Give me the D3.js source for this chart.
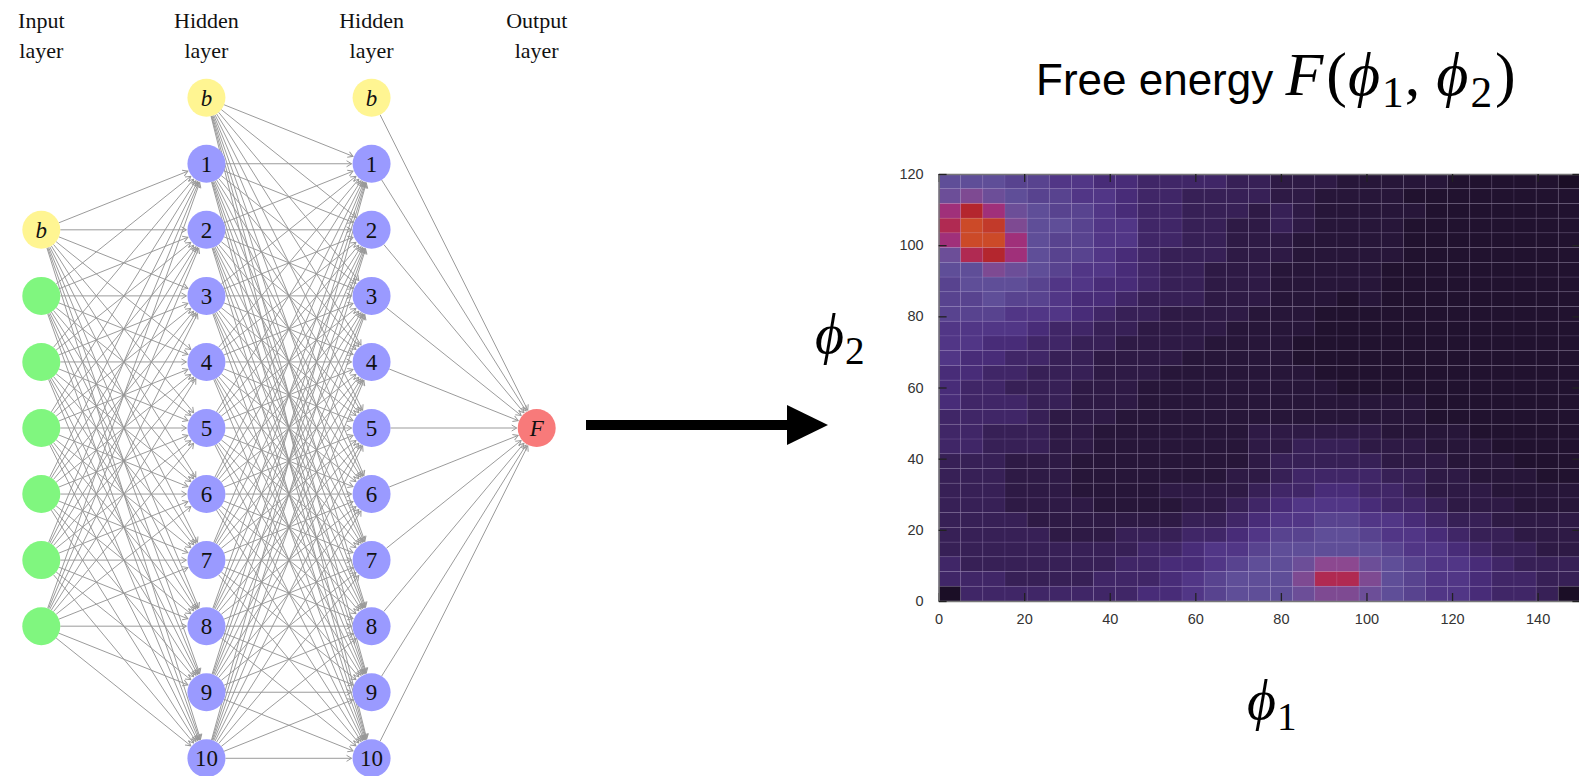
<!DOCTYPE html>
<html>
<head>
<meta charset="utf-8">
<script src="https://cdn.jsdelivr.net/npm/d3@7"></script>
<style>
  body { margin: 0; background: #fff; }
  svg { display: block; }
</style>
</head>
<body>
<svg id="chart" width="1579" height="776"></svg>
<script>
// ---- network data ----
const layerTitles = [["Input", "layer"], ["Hidden", "layer"], ["Hidden", "layer"], ["Output", "layer"]];
const inputLabels = ["b", "", "", "", "", "", ""];
const hidden1Labels = ["b", "1", "2", "3", "4", "5", "6", "7", "8", "9", "10"];
const hidden2Labels = ["b", "1", "2", "3", "4", "5", "6", "7", "8", "9", "10"];
const outputLabels = ["F"];

// ---- heatmap data ----
const phi1Ticks = [0, 20, 40, 60, 80, 100, 120, 140];
const phi2Ticks = [0, 20, 40, 60, 80, 100, 120];
// colour level per cell, rows from top (phi2 = 120) to bottom (phi2 = 0), 29 x 29 cells
const feLevels = [
  [6,6,6,5.5,5.5,5,5,4.5,4.5,4,4,4,4,3.5,3.5, 3,3,3,2.5,2.5,2.5,2.5,2.5,2,2,2,2,2,1.5],
  [6.5,7,6.5,6,5.5,5.5,5,5,4.5,4,4,3.5,3.5,3.5,3.5, 3,3,2.5,2.5,2.5,2.5,2,2,2,2,2,2,2,2],
  [8,9,8,6.5,6,5.5,5.5,5,4.5,4,4,3.5,3.5,3.5,3, 3.5,3,2.5,2.5,2.5,2.5,2.5,2,2,2,2,2,2,2],
  [8.5,10,9.5,7,6,6,5.5,5,5,4,4,3.5,3.5,3,3, 3.5,3,2.5,2.5,2.5,2.5,2,2,2,2,2,2,2,2],
  [8,10,10,8,6,5.5,5.5,5,5,4,4,3.5,3.5,3,3, 3,2.5,2.5,2.5,2.5,2.5,2,2,2,2,2,2,2,2],
  [6.5,8.5,9,8,6,5.5,5.5,5,4.5,4,3.5,3.5,3.5,3,3, 3,2.5,2.5,2.5,2.5,2.5,2,2,2,2,2,2,2,2],
  [6,6,7,6.5,6,5.5,5,5,4.5,4,3.5,3.5,3,3,3, 2.5,2.5,2.5,2.5,2.5,2,2,2,2,2,2,2,2,2],
  [5.5,6,6,6,5.5,5,5,4.5,4.5,4,3.5,3.5,3,3,3, 2.5,2.5,2.5,2.5,2.5,2,2,2,2,2,2,2,2,2],
  [5.5,5.5,6,5.5,5.5,5,4.5,4.5,4,3.5,3.5,3.5,3,3,3, 2.5,2.5,2.5,2,2.5,2,2,2,2,2,2,2,2,2],
  [5.5,5.5,5.5,5,5,5,4.5,4,3.5,3.5,3,3,3,3,2.5, 2.5,2.5,2,2,2,2,2,2,2,2,2,2,2,2],
  [5,5,5,5,4.5,4,4,3.5,3.5,3,3,3,3,2.5,2.5, 2.5,2.5,2,2,2,2,2,2,2,2,2,2,2,2],
  [5,5,4.5,4.5,4,4,3.5,3.5,3,3,3,3,2.5,2.5,2.5, 2.5,2,2,2,2,2,2,2,2,2,2,2,2,2],
  [5,4.5,4.5,4,4,3.5,3.5,3,3,3,3,2.5,2.5,2.5,2.5, 2.5,2,2,2,2,2,2,2,2,2,2,2,2,2],
  [4.5,4.5,4,4,3.5,3.5,3.5,3,3,3,2.5,2.5,2.5,2.5,2.5, 2.5,2.5,2,2,2,2,2,2,2,2,2,2,2,2],
  [4.5,4,4,3.5,3.5,3.5,3,3,3,2.5,2.5,2.5,2.5,2.5,2.5, 2.5,2.5,2.5,2,2,2,2,2,2,2,2,2,2,2],
  [4.5,4,4,4,3.5,3.5,3,3,3,2.5,2.5,2.5,2.5,2.5,2.5, 2.5,2.5,2.5,2.5,2.5,2.5,2.5,2,2,2,2,2,2,2],
  [4,4,4,4,3.5,3,3,3,2.5,2.5,2.5,2.5,2.5,2.5,2.5, 2.5,2.5,2.5,2.5,2.5,2.5,2.5,2,2,2,2,2,2,2],
  [4,4,3.5,3.5,3.5,3,3,2.5,2.5,2.5,2.5,2.5,2.5,2.5,3, 3,3,3,3,3,2.5,2.5,2.5,2.5,2,2,2,2,2],
  [4,4,3.5,3.5,3.5,3,3,2.5,2.5,2.5,2.5,2.5,2.5,2.5,3, 3,3.5,3.5,3.5,3,3,3,2.5,2.5,2.5,2,2,2,2],
  [3.5,3.5,3.5,3,3,3,2.5,2.5,2.5,2.5,2.5,2.5,2.5,2.5,3, 3.5,3.5,3.5,3.5,3.5,3,3,3,2.5,2.5,2.5,2,2,2],
  [3.5,3.5,3.5,3,3,3,2.5,2.5,2.5,2.5,2.5,2.5,2.5,3,3, 3.5,4,4,4,4,3.5,3.5,3,3,2.5,2.5,2.5,2,2],
  [3.5,3.5,3.5,3,3,3,2.5,2.5,2.5,2.5,3,3,3,3,3.5, 4,4,4.5,4.5,4,4,3.5,3,3,3,2.5,2.5,2.5,2.5],
  [3.5,3.5,3.5,3,3,3,3,2.5,2.5,2.5,2.5,3,3,3.5,4, 4.5,5,5,5,4.5,4,4,3.5,3,3,3,2.5,2.5,2.5],
  [3.5,3.5,3.5,3.5,3,3,3,3,3,3,3,3.5,3.5,4,4.5, 5,5,5.5,5.5,5,5,4.5,4,3.5,3.5,3,3,3,3],
  [3.5,3.5,3.5,3.5,3.5,3,3,3,3.5,3.5,3.5,4,4,4.5,5, 5.5,5.5,6,6,5.5,5,5,4.5,4,3.5,3.5,3,3,3],
  [3.5,3.5,3.5,3.5,3.5,3.5,3.5,3.5,3.5,4,4,4.5,5,5,5.5, 6,6,6,6,6,5.5,5,5,4.5,4,3.5,3.5,3,3],
  [4,3.5,3.5,3.5,3.5,3.5,3.5,3.5,4,4,4.5,4.5,5,5.5,6, 6,6.5,7.5,7.5,6.5,6,5.5,5,5,4.5,4,3.5,3.5,3.5],
  [4,4,4,3.5,3.5,3.5,3.5,4,4,4,4.5,5,5.5,6,6, 6,7,8.5,8.5,7,6,5.5,5,5,4.5,4,4,3.5,3.5],
  [1.5,4,4,4,4,4,4,4,4,4.5,4.5,5,5.5,6,6, 6,6.5,7,7,6.5,6,5.5,5,5,4.5,4,4,3.5,1.5]
];
const levelStops = [1.5, 2, 2.5, 3, 3.5, 4, 4.5, 5, 5.5, 6, 6.5, 7, 7.5, 8, 8.5, 9, 9.5, 10];
const levelColors = ["#1b0e26", "#21122f", "#271639", "#2e1a45", "#372056", "#402667", "#482c78", "#513686",
  "#58438f", "#5f4e98", "#6c4e98", "#7e4a92", "#8c4890", "#a0307a", "#b02a52", "#b4262e", "#c23a2a", "#cc4a28"];

const svg = d3.select("#chart");
const serif = "'Liberation Serif', 'DejaVu Serif', serif";
const sans = "'Liberation Sans', Arial, sans-serif";

// ================= neural network =================
const nodeR = 19;
const layers = [inputLabels, hidden1Labels, hidden2Labels, outputLabels].map((labels, li) =>
  labels.map((label, i) => ({
    label: label,
    layer: li,
    slot: 5 - (labels.length - 1) / 2 + i,
    kind: label == "b" ? "bias" : (li == 0 ? "input" : (li == 3 ? "output" : "hidden"))
  }))
);
const fills = { bias: "#fff592", input: "#80f67f", hidden: "#9a9aff", output: "#f87a7a" };

const xLayer = d3.scalePoint().domain([0, 1, 2, 3]).range([41.3, 536.7]);
const yNode = d3.scaleLinear().domain([0, 10]).range([97.7, 758.3]);

svg.append("defs").append("marker")
  .attr("id", "head")
  .attr("viewBox", "-6 -4 7 8")
  .attr("refX", 0).attr("refY", 0)
  .attr("markerWidth", 7).attr("markerHeight", 8)
  .attr("markerUnits", "userSpaceOnUse")
  .attr("orient", "auto")
  .append("path")
  .attr("d", "M-5,-3L0,0L-5,3")
  .attr("fill", "none")
  .attr("stroke", "#999")
  .attr("stroke-width", 1);

let edges = [];
for (let li = 0; li < layers.length - 1; li++) {
  layers[li].forEach(s => {
    layers[li + 1].forEach(t => {
      if (t.kind != "bias") edges.push({ s: s, t: t });
    });
  });
}

let edgePts = (e) => {
  let x1 = xLayer(e.s.layer), y1 = yNode(e.s.slot);
  let x2 = xLayer(e.t.layer), y2 = yNode(e.t.slot);
  let dx = x2 - x1, dy = y2 - y1, len = Math.hypot(dx, dy);
  return [x1 + dx / len * nodeR, y1 + dy / len * nodeR,
          x2 - dx / len * (nodeR + 1), y2 - dy / len * (nodeR + 1)];
};

svg.append("g").selectAll("line")
  .data(edges)
  .enter()
  .append("line")
  .attr("x1", d => edgePts(d)[0])
  .attr("y1", d => edgePts(d)[1])
  .attr("x2", d => edgePts(d)[2])
  .attr("y2", d => edgePts(d)[3])
  .attr("stroke", "#969696")
  .attr("stroke-width", 0.95)
  .attr("marker-end", "url(#head)");

let nodes = svg.append("g").selectAll("g")
  .data(layers.flat())
  .enter()
  .append("g")
  .attr("transform", d => `translate(${xLayer(d.layer)},${yNode(d.slot)})`);

nodes.append("circle")
  .attr("r", nodeR)
  .attr("fill", d => fills[d.kind]);

nodes.append("text")
  .attr("text-anchor", "middle")
  .attr("dy", "0.34em")
  .attr("font-family", serif)
  .attr("font-size", 23)
  .attr("font-style", d => (d.kind == "bias" || d.kind == "output") ? "italic" : "normal")
  .attr("fill", "#111")
  .text(d => d.label);

layerTitles.forEach((lines, li) => {
  lines.forEach((w, k) => {
    svg.append("text")
      .attr("x", xLayer(li))
      .attr("y", 28 + k * 30)
      .attr("text-anchor", "middle")
      .attr("font-family", serif)
      .attr("font-size", 22)
      .attr("fill", "#111")
      .text(w);
  });
});

// big arrow
svg.append("line")
  .attr("x1", 586).attr("y1", 425).attr("x2", 792).attr("y2", 425)
  .attr("stroke", "#000").attr("stroke-width", 10);
svg.append("path")
  .attr("d", "M787,405L828,425L787,445Z")
  .attr("fill", "#000");

// ================= heatmap =================
const nCols = feLevels[0].length, nRows = feLevels.length;
const x = d3.scaleLinear().domain([0, 150]).range([938.6, 1580.4]);
const y = d3.scaleLinear().domain([0, 120]).range([601, 174]);
const color = d3.scaleLinear().domain(levelStops).range(levelColors).interpolate(d3.interpolateRgb);
const cw = 150 / nCols, ch = 120 / nRows;

let cells = [];
feLevels.forEach((row, r) => {
  row.forEach((v, c) => {
    cells.push({ p1: c * cw, p2: 120 - (r + 1) * ch, v: v });
  });
});

svg.append("g").selectAll("rect")
  .data(cells)
  .enter()
  .append("rect")
  .attr("x", d => x(d.p1))
  .attr("y", d => y(d.p2 + ch))
  .attr("width", x(cw) - x(0))
  .attr("height", y(0) - y(ch))
  .attr("fill", d => color(d.v))
  .attr("stroke", "rgba(200,180,235,0.13)")
  .attr("stroke-width", 0.8);

let styleAxis = (g) => {
  g.select(".domain").attr("stroke", "#777").attr("stroke-width", 1.5);
  g.selectAll(".tick line").attr("stroke", "#222").attr("stroke-width", 1.3);
  g.selectAll("text").attr("font-family", sans).attr("font-size", 14.5).attr("fill", "#333");
};

svg.append("g")
  .attr("transform", `translate(0,${y(0)})`)
  .call(d3.axisBottom(x).tickValues(phi1Ticks).tickSizeInner(-8).tickSizeOuter(0).tickPadding(13))
  .call(styleAxis);
svg.append("g")
  .attr("transform", `translate(0,${y(120)})`)
  .call(d3.axisTop(x).tickValues(phi1Ticks).tickSizeInner(-8).tickSizeOuter(0).tickFormat(""))
  .call(styleAxis);
svg.append("g")
  .attr("transform", `translate(${x(0)},0)`)
  .call(d3.axisLeft(y).tickValues(phi2Ticks).tickSizeInner(-8).tickSizeOuter(0).tickPadding(15))
  .call(styleAxis);
svg.append("g")
  .attr("transform", `translate(${x(150)},0)`)
  .call(d3.axisRight(y).tickValues(phi2Ticks).tickSizeInner(-8).tickSizeOuter(0).tickFormat(""))
  .call(styleAxis);

// math text helper: parts of [text, kind, dx] with kind i = italic, n = upright, s = subscript
let mathText = (t, parts, size) => {
  let sub = false;
  parts.forEach(([str, kind, dx]) => {
    let ts = t.append("tspan")
      .attr("font-family", serif)
      .attr("font-size", kind == "s" ? size * 0.7 : size)
      .attr("font-style", kind == "i" ? "italic" : "normal")
      .text(str);
    if (dx) ts.attr("dx", dx);
    if (kind == "s" && !sub) { ts.attr("dy", size * 0.2); sub = true; }
    else if (kind != "s" && sub) { ts.attr("dy", -size * 0.2); sub = false; }
  });
};

let title = svg.append("text").attr("x", 1036).attr("y", 95).attr("fill", "#000");
title.append("tspan").attr("font-family", sans).attr("font-size", 44).text("Free energy ");
mathText(title, [["F", "i"], ["(", "n", 3], ["\u03D5", "i", 1], ["1", "s", 2], [",", "n", 1], ["\u03D5", "i", 16], ["2", "s", 2], [")", "n", 3]], 62);

let lab2 = svg.append("text").attr("x", 815).attr("y", 353).attr("fill", "#000");
mathText(lab2, [["\u03D5", "i"], ["2", "s", 1]], 56);

let lab1 = svg.append("text").attr("x", 1247).attr("y", 719).attr("fill", "#000");
mathText(lab1, [["\u03D5", "i"], ["1", "s", 1]], 56);
</script>
</body>
</html>
